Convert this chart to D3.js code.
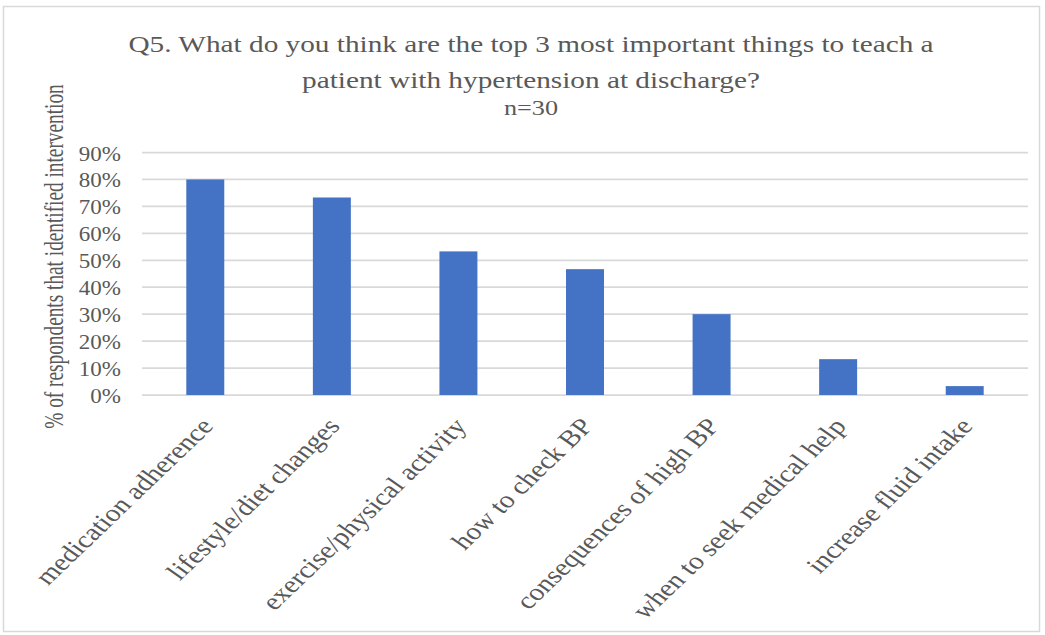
<!DOCTYPE html>
<html><head><meta charset="utf-8">
<script src="https://cdn.jsdelivr.net/npm/d3@7"></script>
<style>body{margin:0;background:#fff}svg{display:block}</style>
</head><body>
<script>
const categories = ["medication adherence","lifestyle/diet changes","exercise/physical activity","how to check BP","consequences of high BP","when to seek medical help","increase fluid intake"];
const values = [0.80, 0.733, 0.533, 0.467, 0.30, 0.133, 0.033];
const yTicks = [0,0.1,0.2,0.3,0.4,0.5,0.6,0.7,0.8,0.9];
const titleLines = ["Q5. What do you think are the top 3 most important things to teach a","patient with hypertension at discharge?","n=30"];
const yLabel = "% of respondents that identified intervention";

const W=1045,H=635;
const K=1.22; // horizontal stretch seen in the reference text
const svg=d3.select("body").append("svg").attr("width",W).attr("height",H);
svg.append("rect").attr("x",3.5).attr("y",6.5).attr("width",1036).attr("height",625).attr("fill","#fff").attr("stroke","#d9d9d9").attr("stroke-width",1.5);
const font="'Liberation Serif','Times New Roman',serif";
const m={l:142,r:1028,t:152.5,b:395};
const x=d3.scaleBand().domain(categories).range([m.l,m.r]).paddingInner(0.7).paddingOuter(0.35);
const y=d3.scaleLinear().domain([0,0.9]).range([m.b,m.t]);

const g=svg.append("g");
g.selectAll("line.grid").data(yTicks).join("line").attr("class","grid")
 .attr("x1",m.l).attr("x2",m.r).attr("y1",d=>y(d)).attr("y2",d=>y(d))
 .attr("stroke","#d9d9d9").attr("stroke-width",1.75);
g.selectAll("text.yt").data(yTicks).join("text").attr("class","yt")
 .attr("transform",d=>`translate(121,${y(d)}) scale(1.15,1)`).attr("dy","0.4em").attr("text-anchor","end")
 .attr("font-family",font).attr("font-size",20).attr("fill","#595959")
 .text(d3.format(".0%"));
g.selectAll("rect.bar").data(values).join("rect").attr("class","bar")
 .attr("x",(d,i)=>x(categories[i])).attr("width",x.bandwidth())
 .attr("y",d=>y(d)).attr("height",d=>y(0)-y(d)).attr("fill","#4472c4");
g.selectAll("text.xl").data(categories).join("text").attr("class","xl")
 .attr("transform",d=>`translate(${x(d)+x.bandwidth()/2+1.5},${y(0)+26.5}) scale(${K},1) rotate(-49.4)`)
 .attr("text-anchor","end").attr("dy","0.35em")
 .attr("font-family",font).attr("font-size",24).attr("fill","#595959").text(d=>d);
svg.append("text").attr("transform",`translate(62.5,256.5) scale(1.42,1) rotate(-90)`)
 .attr("text-anchor","middle")
 .attr("font-family",font).attr("font-size",19.3).attr("fill","#595959").text(yLabel);
svg.selectAll("text.title").data(titleLines).join("text").attr("class","title")
 .attr("transform",(d,i)=>`translate(531,${[51.7,87.5,115][i]}) scale(${K},1)`).attr("text-anchor","middle")
 .attr("font-family",font).attr("font-size",(d,i)=>i<2?24:21.5).attr("fill","#595959").text(d=>d);
</script>
</body></html>
